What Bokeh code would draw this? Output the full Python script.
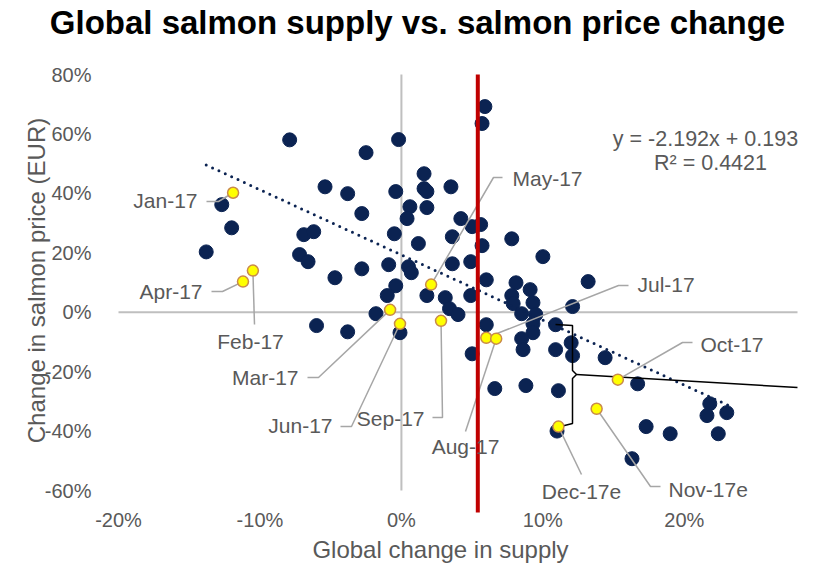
from bokeh.plotting import figure
from bokeh.models import Range1d, Label
from bokeh.embed import file_html
from bokeh.resources import INLINE

# ---------------- data (fractions) ----------------
supply_change = [
    -0.079, -0.025, -0.002, -0.054, -0.038, -0.004, -0.127, -0.120, -0.138, -0.069,
    -0.062, -0.028, -0.005, -0.072, -0.066, -0.047, -0.028, -0.009, -0.004, -0.010,
    0.059, 0.057, 0.016, 0.035, 0.016, 0.018, 0.006, 0.018, 0.004, 0.042,
    0.056, 0.050, 0.036, 0.012, 0.057, 0.078, 0.100, 0.005, 0.007, 0.036,
    0.049, 0.018, 0.031, 0.049, 0.060, 0.081, 0.091, 0.132, 0.078, 0.079,
    0.093, 0.121, 0.034, 0.040, 0.085, 0.095, 0.093, 0.093, 0.109, 0.060,
    0.050, 0.085, 0.086, 0.109, 0.120, 0.121, 0.144, -0.001, -0.060, -0.038,
    -0.018, 0.066, 0.088, 0.111, 0.167, 0.110, 0.163, 0.173, 0.190, 0.218,
    0.216, 0.230, 0.224,
]
price_change = [
    0.580, 0.537, 0.581, 0.422, 0.399, 0.406, 0.362, 0.284, 0.203, 0.261,
    0.271, 0.332, 0.264, 0.194, 0.170, 0.116, 0.146, 0.160, 0.089, 0.056,
    0.692, 0.635, 0.466, 0.422, 0.416, 0.406, 0.355, 0.352, 0.315, 0.315,
    0.295, 0.288, 0.254, 0.231, 0.224, 0.247, 0.187, 0.153, 0.133, 0.163,
    0.170, 0.056, 0.049, 0.056, 0.109, 0.099, 0.076, 0.103, 0.056, 0.029,
    0.032, 0.019, 0.012, -0.008, -0.005, -0.008, -0.039, -0.069, -0.042, -0.042,
    -0.140, -0.089, -0.126, -0.126, -0.103, -0.146, -0.153, -0.069, -0.045, -0.066,
    -0.005, -0.257, -0.247, -0.264, -0.241, -0.400, -0.493, -0.385, -0.409, -0.308,
    -0.348, -0.338, -0.409,
]

months = ["Jan-17", "Feb-17", "Mar-17", "Apr-17", "May-17", "Jun-17",
          "Jul-17", "Aug-17", "Sep-17", "Oct-17", "Nov-17e", "Dec-17e"]
month_supply = [-0.119, -0.105, -0.008, -0.112, 0.021, -0.001,
                0.060, 0.067, 0.028, 0.153, 0.138, 0.111]
month_price = [0.402, 0.140, 0.008, 0.103, 0.093, -0.039,
               -0.086, -0.089, -0.029, -0.227, -0.325, -0.385]

trend_slope = -2.192
trend_intercept = 0.193
r_squared = 0.4421
trend_x = [-0.138, 0.234]
supply_marker = 0.054

x_ticks = [-0.2, -0.1, 0.0, 0.1, 0.2]
x_tick_labels = ["-20%", "-10%", "0%", "10%", "20%"]
y_ticks = [-0.6, -0.4, -0.2, 0.0, 0.2, 0.4, 0.6, 0.8]
y_tick_labels = ["-60%", "-40%", "-20%", "0%", "20%", "40%", "60%", "80%"]

# ---------------- layout helpers ----------------
# plot-area placement in canvas pixels: x -20%..28%, y -60%..80%
XA, XB = -0.20, 0.28
YA, YB = -0.60, 0.80
PL, PR, PT, PB = 118, 797, 74, 490
W, H = 813, 564


def px(x):
    return XA + (x - PL) / (PR - PL) * (XB - XA)


def py(y):
    return YB - (y - PT) / (PB - PT) * (YB - YA)


FONT = "Liberation Sans"
GRAY_TXT = "#595959"
NAVY = "#0b2352"
FRAME_BOTTOM = py(512)

p = figure(width=W, height=H, output_backend="svg", toolbar_location=None,
           x_range=Range1d(px(0), px(W)), y_range=Range1d(py(H), py(0)),
           x_axis_location=None, y_axis_location=None,
           min_border=0)
p.outline_line_color = None
p.grid.visible = False
p.background_fill_color = "white"
p.border_fill_color = "white"

# tick labels
for t, s in zip(x_ticks, x_tick_labels):
    p.add_layout(Label(x=t, y=py(519), text=s, text_align="center", text_baseline="middle",
                       text_font=FONT, text_font_size="20px", text_color=GRAY_TXT))
for t, s in zip(y_ticks, y_tick_labels):
    p.add_layout(Label(x=px(91), y=t, text=s, text_align="right", text_baseline="middle",
                       text_font=FONT, text_font_size="20px", text_color=GRAY_TXT))

# axis cross lines
p.line([XA, XB], [0, 0], line_color="#bfbfbf", line_width=2)
p.line([0, 0], [YA, YB], line_color="#bfbfbf", line_width=2)

# dark points
p.scatter(supply_change, price_change, size=14, fill_color=NAVY, line_color=NAVY)

# trend line
p.line(trend_x, [trend_slope * v + trend_intercept for v in trend_x],
       line_color=NAVY, line_width=3, line_dash="0 7", line_cap="round")

# bracket
brace = [(555, 324), (572, 325), (572, 370), (576, 374), (572, 378), (572, 423), (560, 426)]
p.line([px(a) for a, b in brace], [py(b) for a, b in brace], line_color="black", line_width=1.5)
p.line([px(576), px(797)], [py(374), py(387)], line_color="black", line_width=1.5)

# callouts
callouts = {
    "Jan-17": ((197, 200), "right", [(206, 201), (218, 201)]),
    "Feb-17": ((250, 341), "center", [(254, 324)]),
    "Mar-17": ((298, 377), "right", [(307, 377), (318, 377)]),
    "Apr-17": ((202, 291), "right", [(211, 291), (222, 291)]),
    "May-17": ((512, 178), "left", [(502, 177), (493, 177)]),
    "Jun-17": ((332, 425), "right", [(340, 426), (351, 426)]),
    "Jul-17": ((637, 284), "left", [(628, 285), (618, 285)]),
    "Aug-17": ((465, 446), "center", [(465, 431)]),
    "Sep-17": ((424, 418), "right", [(432, 417), (442, 417)]),
    "Oct-17": ((700, 344), "left", [(692, 342), (682, 342)]),
    "Nov-17e": ((668, 489), "left", [(660, 486), (650, 486)]),
    "Dec-17e": ((581, 491), "center", [(581, 474)]),
}
for m, sx, sy in zip(months, month_supply, month_price):
    (tx, ty), align, leader = callouts[m]
    p.line([px(a) for a, b in leader] + [sx], [py(b) for a, b in leader] + [sy],
           line_color="#a6a6a6", line_width=1.5)
    p.add_layout(Label(x=px(tx), y=py(ty), text=m, text_align=align, text_baseline="middle",
                       text_font=FONT, text_font_size="21px", text_color=GRAY_TXT))

# red supply line
p.line([supply_marker, supply_marker], [FRAME_BOTTOM, YB], line_color="#c00000", line_width=4)

# highlighted months
p.scatter(month_supply, month_price, size=11, fill_color="#ffff00",
          line_color="#c98a4b", line_width=1.5)

# equation
p.add_layout(Label(x=px(705), y=py(138),
                   text=f"y = {trend_slope:.3f}x + {trend_intercept:.3f}",
                   text_align="center", text_baseline="middle",
                   text_font=FONT, text_font_size="21.5px", text_color=GRAY_TXT))
p.add_layout(Label(x=px(710), y=py(162), text=f"R\u00b2 = {r_squared:.4f}",
                   text_align="center", text_baseline="middle",
                   text_font=FONT, text_font_size="21.5px", text_color=GRAY_TXT))

# titles
p.add_layout(Label(x=px(417), y=py(22), text="Global salmon supply vs. salmon price change",
                   text_align="center", text_baseline="middle",
                   text_font=FONT, text_font_size="33px", text_font_style="bold",
                   text_color="black"))
p.add_layout(Label(x=px(440), y=py(549), text="Global change in supply",
                   text_align="center", text_baseline="middle",
                   text_font=FONT, text_font_size="24px", text_color=GRAY_TXT))
p.add_layout(Label(x=px(36), y=py(280), text="Change in salmon price (EUR)",
                   text_align="center", text_baseline="middle", angle=90, angle_units="deg",
                   text_font=FONT, text_font_size="24px", text_color=GRAY_TXT))

open("out.html", "w").write(file_html(p, INLINE))
